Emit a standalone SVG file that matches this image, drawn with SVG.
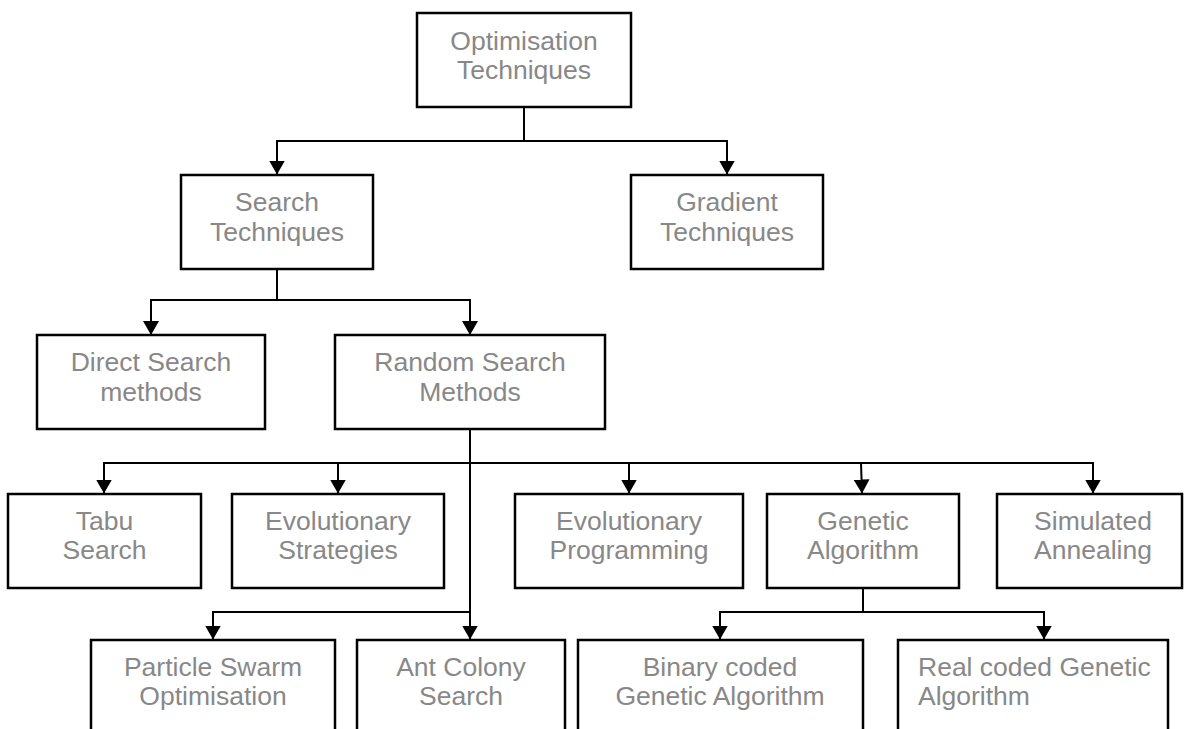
<svg xmlns="http://www.w3.org/2000/svg" width="1184" height="729" viewBox="0 0 1184 729">
  <defs>
    <marker id="arrow" viewBox="0 -8 14 16" refX="14" refY="0" markerWidth="14" markerHeight="16" markerUnits="userSpaceOnUse" orient="auto">
      <path d="M0,-8 L14,0 L0,8 z" fill="#000"/>
    </marker>
    <style>
      .box { fill: #fff; stroke: #000; stroke-width: 2.5; }
      .lbl { font-family: "Liberation Sans", Arial, sans-serif; font-size: 26.5px; fill: #888888; text-anchor: middle; }
      .lbl-left { text-anchor: start; }
      .wire { fill: none; stroke: #000; stroke-width: 2; }
      .arr { marker-end: url(#arrow); }
    </style>
  </defs>
  <rect width="1184" height="729" fill="#fff"/>

  <g id="connectors">
    <!-- root split -->
    <path class="wire" d="M524,107 V141"/>
    <path class="wire arr" d="M524,141 H277 V174.5"/>
    <path class="wire arr" d="M524,141 H727 V174.5"/>
    <!-- search techniques split -->
    <path class="wire" d="M277,269 V300"/>
    <path class="wire arr" d="M277,300 H151 V335"/>
    <path class="wire arr" d="M277,300 H470 V335"/>
    <!-- random search methods trunk -->
    <path class="wire arr" d="M470,429 V639.5"/>
    <path class="wire arr" d="M470,463 H104 V493.5"/>
    <path class="wire arr" d="M338,463 V493.5"/>
    <path class="wire arr" d="M470,463 H1093 V493.5"/>
    <path class="wire arr" d="M629,463 V493.5"/>
    <path class="wire arr" d="M861,463 L862,493.5"/>
    <path class="wire arr" d="M470,612 H213 V639.5"/>
    <!-- genetic algorithm split -->
    <path class="wire" d="M863,588 V612"/>
    <path class="wire arr" d="M863,612 H720 V639.5"/>
    <path class="wire arr" d="M863,612 H1044 V639.5"/>
  </g>

  <g id="optimisation-techniques">
    <rect class="box" x="417" y="13" width="214" height="94"/>
    <text class="lbl" x="524" y="50">Optimisation</text>
    <text class="lbl" x="524" y="79">Techniques</text>
  </g>
  <g id="search-techniques">
    <rect class="box" x="181" y="175" width="192" height="94"/>
    <text class="lbl" x="277" y="211">Search</text>
    <text class="lbl" x="277" y="241">Techniques</text>
  </g>
  <g id="gradient-techniques">
    <rect class="box" x="631" y="175" width="192" height="94"/>
    <text class="lbl" x="727" y="211">Gradient</text>
    <text class="lbl" x="727" y="241">Techniques</text>
  </g>
  <g id="direct-search">
    <rect class="box" x="37" y="335" width="228" height="94"/>
    <text class="lbl" x="151" y="371">Direct Search</text>
    <text class="lbl" x="151" y="401">methods</text>
  </g>
  <g id="random-search">
    <rect class="box" x="335" y="335" width="270" height="94"/>
    <text class="lbl" x="470" y="371">Random Search</text>
    <text class="lbl" x="470" y="401">Methods</text>
  </g>
  <g id="tabu-search">
    <rect class="box" x="8" y="494" width="193" height="94"/>
    <text class="lbl" x="104.5" y="530">Tabu</text>
    <text class="lbl" x="104.5" y="559">Search</text>
  </g>
  <g id="evolutionary-strategies">
    <rect class="box" x="232" y="494" width="212" height="94"/>
    <text class="lbl" x="338" y="530">Evolutionary</text>
    <text class="lbl" x="338" y="559">Strategies</text>
  </g>
  <g id="evolutionary-programming">
    <rect class="box" x="515" y="494" width="228" height="94"/>
    <text class="lbl" x="629" y="530">Evolutionary</text>
    <text class="lbl" x="629" y="559">Programming</text>
  </g>
  <g id="genetic-algorithm">
    <rect class="box" x="767" y="494" width="192" height="94"/>
    <text class="lbl" x="863" y="530">Genetic</text>
    <text class="lbl" x="863" y="559">Algorithm</text>
  </g>
  <g id="simulated-annealing">
    <rect class="box" x="997" y="494" width="185" height="94"/>
    <text class="lbl" x="1093" y="530">Simulated</text>
    <text class="lbl" x="1093" y="559">Annealing</text>
  </g>
  <g id="particle-swarm">
    <rect class="box" x="91" y="640" width="244" height="120"/>
    <text class="lbl" x="213" y="676">Particle Swarm</text>
    <text class="lbl" x="213" y="705">Optimisation</text>
  </g>
  <g id="ant-colony">
    <rect class="box" x="357" y="640" width="208" height="120"/>
    <text class="lbl" x="461" y="676">Ant Colony</text>
    <text class="lbl" x="461" y="705">Search</text>
  </g>
  <g id="binary-coded-ga">
    <rect class="box" x="578" y="640" width="285" height="120"/>
    <text class="lbl" x="720" y="676">Binary coded</text>
    <text class="lbl" x="720" y="705">Genetic Algorithm</text>
  </g>
  <g id="real-coded-ga">
    <rect class="box" x="898" y="640" width="270" height="120"/>
    <text class="lbl lbl-left" x="918" y="676">Real coded Genetic</text>
    <text class="lbl lbl-left" x="918" y="705">Algorithm</text>
  </g>
</svg>
